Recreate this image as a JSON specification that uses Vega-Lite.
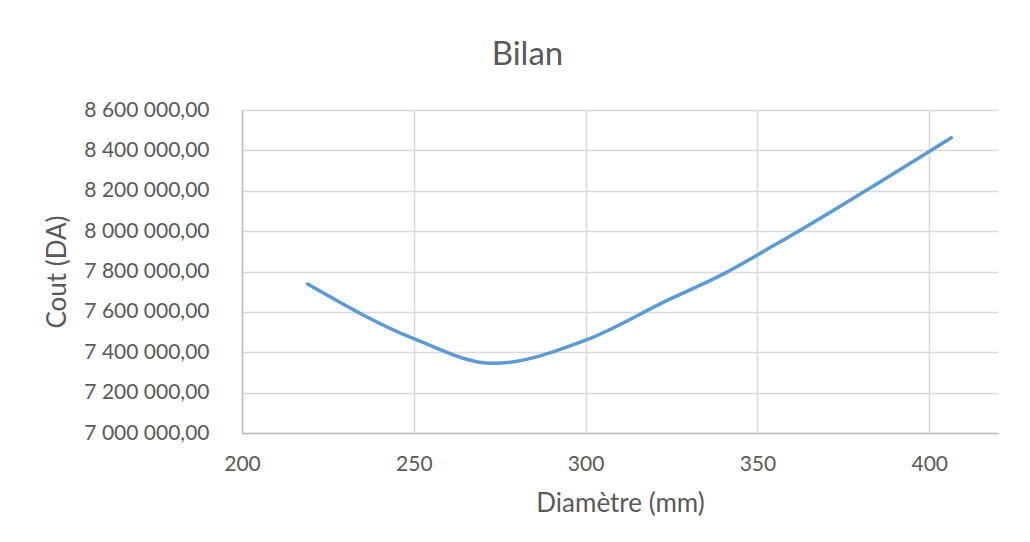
{
  "$schema": "https://vega.github.io/schema/vega-lite/v6.json",
  "width": 756,
  "height": 323,
  "autosize": {"type": "none"},
  "padding": {"left": 242, "top": 110, "right": 32, "bottom": 109},
  "background": "white",
  "config": {
    "locale": {"number": {"decimal": ",", "thousands": " ", "grouping": [3], "currency": ["", " DA"]}},
    "view": {"stroke": null},
    "font": "Lato"
  },
  "title": {
    "text": "Bilan",
    "font": "Lato",
    "fontSize": 33,
    "fontWeight": "normal",
    "color": "#595959",
    "anchor": "middle",
    "frame": "bounds",
    "offset": 27,
    "dx": 6
  },
  "data": {
    "values": [
      {"d": 219.1, "cout": 7738000},
      {"d": 250, "cout": 7467000},
      {"d": 273, "cout": 7345000},
      {"d": 300, "cout": 7460000},
      {"d": 323.9, "cout": 7658000},
      {"d": 340, "cout": 7787000},
      {"d": 355.6, "cout": 7937000},
      {"d": 406.4, "cout": 8463000}
    ]
  },
  "mark": {"type": "line", "interpolate": "monotone", "color": "#5b9bd5", "strokeWidth": 3.5, "strokeCap": "round"},
  "encoding": {
    "x": {
      "field": "d",
      "type": "quantitative",
      "scale": {"domain": [200, 420], "nice": false, "zero": false},
      "axis": {
        "title": "Diamètre (mm)",
        "values": [200, 250, 300, 350, 400],
        "format": "d",
        "ticks": false,
        "labelFlush": false,
        "domainColor": "#bfbfbf",
        "domainWidth": 1.5,
        "gridColor": "#d9d9d9",
        "gridWidth": 1.5,
        "labelFont": "Lato",
        "labelFontSize": 21,
        "labelColor": "#595959",
        "labelPadding": 20,
        "titleFont": "Lato",
        "titleFontSize": 26,
        "titleFontWeight": "normal",
        "titleColor": "#595959",
        "titlePadding": 16
      }
    },
    "y": {
      "field": "cout",
      "type": "quantitative",
      "scale": {"domain": [7000000, 8600000], "nice": false, "zero": false},
      "axis": {
        "title": "Cout (DA)",
        "values": [7000000, 7200000, 7400000, 7600000, 7800000, 8000000, 8200000, 8400000, 8600000],
        "format": ",.2f",
        "ticks": false,
        "domainColor": "#bfbfbf",
        "domainWidth": 1.5,
        "gridColor": "#d9d9d9",
        "gridWidth": 1.5,
        "labelFont": "Lato",
        "labelFontSize": 21,
        "labelColor": "#595959",
        "labelPadding": 33,
        "titleFont": "Lato",
        "titleFontSize": 26,
        "titleFontWeight": "normal",
        "titleColor": "#595959",
        "titlePadding": 13
      }
    }
  }
}
